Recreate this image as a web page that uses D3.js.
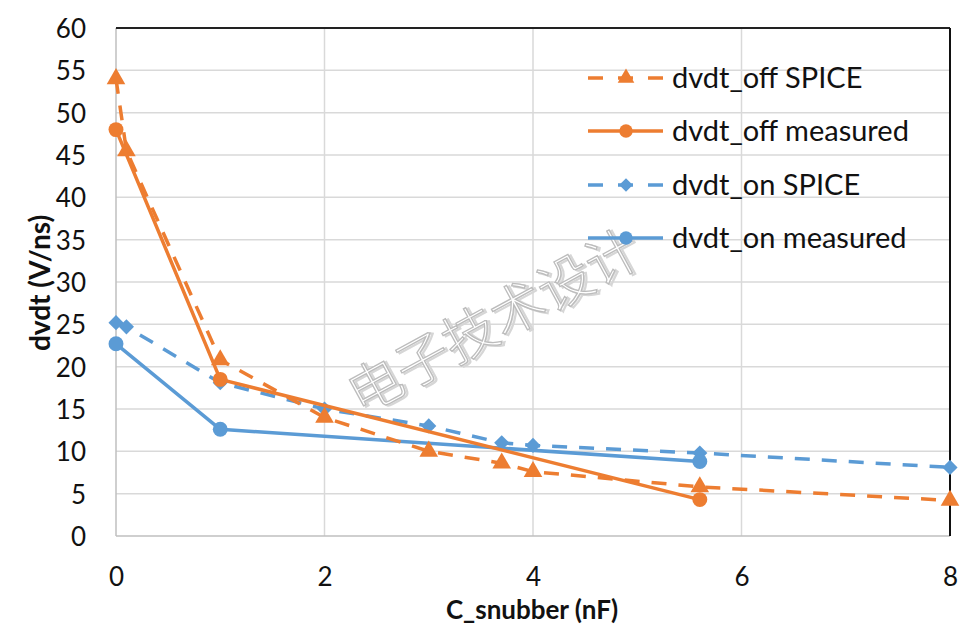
<!DOCTYPE html>
<html><head><meta charset="utf-8">
<script src="https://cdn.jsdelivr.net/npm/d3@7"></script>
<style>body{margin:0;background:#fff}svg{display:block}</style>
</head><body>
<svg id="c" width="974" height="627"></svg>
<script>
const xTicks = [0, 2, 4, 6, 8];
const yTicks = [0, 5, 10, 15, 20, 25, 30, 35, 40, 45, 50, 55, 60];
const offSpiceX = [0, 0.1, 1, 2, 3, 3.7, 4, 5.6, 8];
const offSpiceY = [54, 45.5, 20.8, 14, 10, 8.6, 7.6, 5.8, 4.2];
const offMeasX = [0, 1, 5.6];
const offMeasY = [48, 18.5, 4.3];
const onSpiceX = [0, 0.1, 1, 2, 3, 3.7, 4, 5.6, 8];
const onSpiceY = [25.2, 24.7, 18.1, 15, 13, 11, 10.7, 9.8, 8.1];
const onMeasX = [0, 1, 5.6];
const onMeasY = [22.7, 12.6, 8.8];
const seriesNames = ["dvdt_off SPICE", "dvdt_off measured", "dvdt_on SPICE", "dvdt_on measured"];
const xTitle = "C_snubber (nF)";
const yTitle = "dvdt (V/ns)";
const watermark = "电子技术设计";

const ORANGE = "#ED7D31", BLUE = "#5B9BD5";
const font = "Lato, 'Open Sans', sans-serif";
const svg = d3.select("#c");
const L = 116, R = 950, T = 28, B = 536;
const x = d3.scaleLinear().domain([0, 8]).range([L, R]);
const y = d3.scaleLinear().domain([0, 60]).range([B, T]);

// diamond as rotated square
const diamond = {
  draw(ctx, size) {
    const h = Math.sqrt(size * 2) / 2;
    ctx.moveTo(0, -h); ctx.lineTo(h, 0); ctx.lineTo(0, h); ctx.lineTo(-h, 0); ctx.closePath();
  }
};

// grid
const g = svg.append("g");
g.selectAll(".hg").data(yTicks.slice(1)).enter().append("line")
  .attr("x1", L).attr("x2", R).attr("y1", d => y(d)).attr("y2", d => y(d))
  .attr("stroke", "#d9d9d9").attr("stroke-width", 1.5);
g.selectAll(".vg").data(xTicks.slice(1, -1)).enter().append("line")
  .attr("y1", T).attr("y2", B).attr("x1", d => x(d)).attr("x2", d => x(d))
  .attr("stroke", "#d9d9d9").attr("stroke-width", 1.5);
g.append("line").attr("x1", L).attr("x2", L).attr("y1", T).attr("y2", B).attr("stroke", "#bfbfbf").attr("stroke-width", 1.5);
g.append("line").attr("x1", L).attr("x2", R).attr("y1", B).attr("y2", B).attr("stroke", "#bfbfbf").attr("stroke-width", 1.5);
g.append("line").attr("x1", L).attr("x2", R).attr("y1", T).attr("y2", T).attr("stroke", "#222").attr("stroke-width", 2);
g.append("line").attr("x1", R).attr("x2", R).attr("y1", T).attr("y2", B).attr("stroke", "#111").attr("stroke-width", 2);

// watermark
const wm = svg.append("g").attr("transform", "translate(494,322) rotate(-28.5)");
wm.append("text").attr("x", 2).attr("y", 2).attr("text-anchor", "middle").attr("dy", "0.35em")
  .attr("font-family", "'Noto Sans CJK SC'").attr("font-size", 54).attr("font-weight", 300)
  .attr("fill", "none").attr("stroke", "#d6d6d6").attr("stroke-width", 2.2).text(watermark);
wm.append("text").attr("text-anchor", "middle").attr("dy", "0.35em")
  .attr("font-family", "'Noto Sans CJK SC'").attr("font-size", 54).attr("font-weight", 300)
  .attr("fill", "#fff").attr("stroke", "#bcbcbc").attr("stroke-width", 1.3).text(watermark);

// tick labels via axes
const yAxis = d3.axisLeft(y).tickValues(yTicks).tickSize(0).tickPadding(0);
const ya = svg.append("g").attr("transform", `translate(86,0)`).call(yAxis);
ya.select(".domain").remove();
ya.selectAll("text").attr("font-family", font).attr("font-size", 26).attr("fill", "#111").attr("dy", "0.36em");
const xAxis = d3.axisBottom(x).tickValues(xTicks).tickSize(0).tickPadding(0);
const xa = svg.append("g").attr("transform", `translate(0,586)`).call(xAxis);
xa.select(".domain").remove();
xa.selectAll("text").attr("font-family", font).attr("font-size", 26).attr("fill", "#111").attr("dy", "0");

svg.append("text").attr("x", 532).attr("y", 619).attr("text-anchor", "middle")
  .attr("font-family", font).attr("font-weight", "bold").attr("font-size", 26).attr("fill", "#111").text(xTitle);
svg.append("text").attr("transform", "translate(50,283) rotate(-90)").attr("text-anchor", "middle")
  .attr("font-family", font).attr("font-weight", "bold").attr("font-size", 28).attr("fill", "#111").text(yTitle);

const series = [
  {name: seriesNames[0], xs: offSpiceX, ys: offSpiceY, color: ORANGE, dash: "15,12", sym: d3.symbolTriangle, size: 150},
  {name: seriesNames[1], xs: offMeasX, ys: offMeasY, color: ORANGE, dash: null, sym: d3.symbolCircle, size: 175},
  {name: seriesNames[2], xs: onSpiceX, ys: onSpiceY, color: BLUE, dash: "15,12", sym: diamond, size: 115},
  {name: seriesNames[3], xs: onMeasX, ys: onMeasY, color: BLUE, dash: null, sym: d3.symbolCircle, size: 175},
];
const line = d3.line().x(d => x(d[0])).y(d => y(d[1]));
const plot = svg.append("g");
[2, 3, 0, 1].forEach(i => {
  const s = series[i];
  const pts = s.xs.map((v, j) => [v, s.ys[j]]);
  plot.append("path").datum(pts).attr("d", line).attr("fill", "none")
    .attr("stroke", s.color).attr("stroke-width", 3.5).attr("stroke-dasharray", s.dash)
    .attr("stroke-linejoin", "round");
  plot.selectAll(null).data(pts).enter().append("path")
    .attr("d", d3.symbol().type(s.sym).size(s.size))
    .attr("transform", d => `translate(${x(d[0])},${y(d[1])})`)
    .attr("fill", s.color);
});

// legend
const lg = svg.append("g");
const rows = [78, 131, 185, 238];
series.forEach((s, i) => {
  const ry = rows[i];
  lg.append("line").attr("x1", 588).attr("x2", 663).attr("y1", ry).attr("y2", ry)
    .attr("stroke", s.color).attr("stroke-width", 3.5).attr("stroke-dasharray", s.dash ? "15,15" : null);
  lg.append("path").attr("d", d3.symbol().type(s.sym).size(s.size * 0.8))
    .attr("transform", `translate(626,${ry})`).attr("fill", s.color);
  lg.append("text").attr("x", 672).attr("y", ry).attr("dy", "0.36em")
    .attr("font-family", font).attr("font-size", 29).attr("fill", "#111").text(s.name);
});
</script>
</body></html>
